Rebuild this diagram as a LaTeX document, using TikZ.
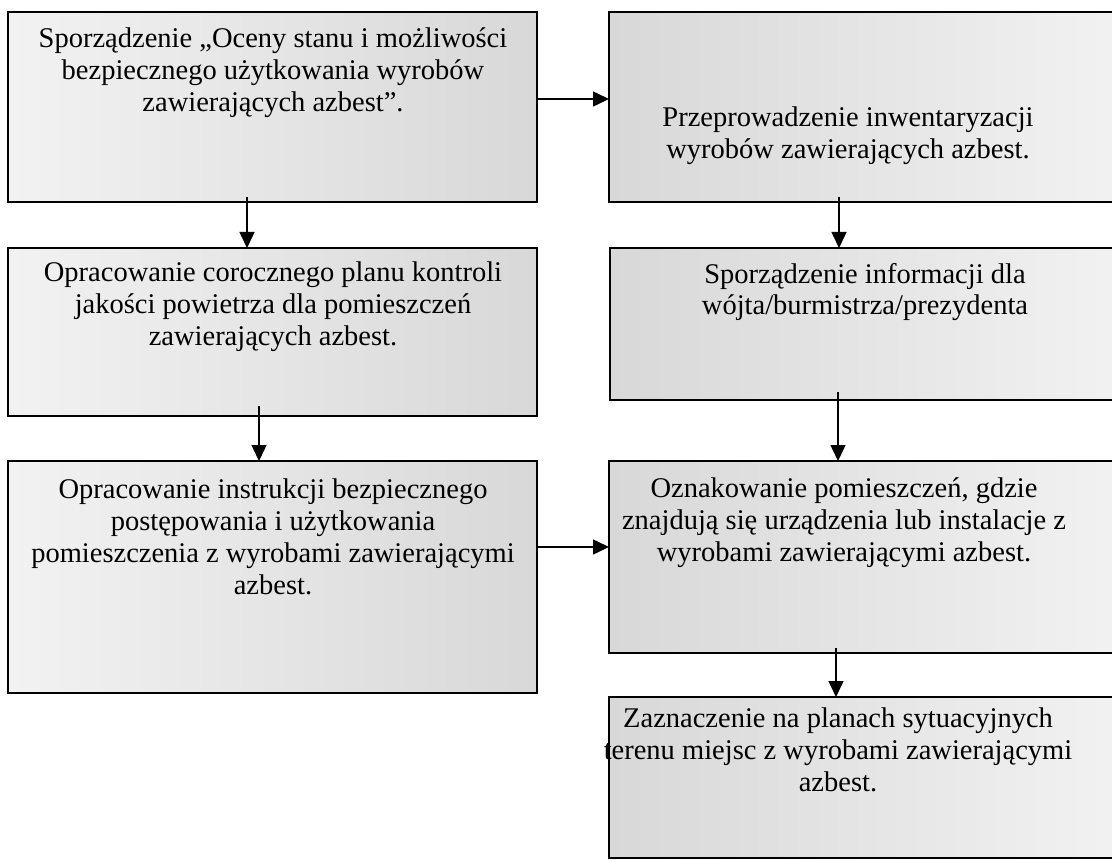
\documentclass[tikz,border=0pt]{standalone}
\usepackage{fontspec}
\setmainfont{Liberation Serif}
\usetikzlibrary{arrows.meta}
\definecolor{shdark}{HTML}{D8D8D8}
\definecolor{shlight}{HTML}{F2F2F2}
\tikzset{
  boxbase/.style={draw=black, line width=2pt, rectangle, inner sep=0pt, outer sep=0pt, anchor=north west},
  lbox/.style={boxbase, left color=shlight, right color=shdark},
  rbox/.style={boxbase, left color=shdark, right color=shlight},
  txt/.style={align=center, anchor=base, inner sep=0pt, font=\fontsize{28.5}{32}\selectfont},
  arr/.style={line width=1.5pt, -{Triangle[length=16pt,width=15pt]}}
}
\begin{document}
\begin{tikzpicture}[x=1pt,y=-1pt]
\clip (0,0) rectangle (1112,861);
\fill[white] (0,0) rectangle (1112,861);
% boxes
\node[lbox, minimum width=529pt, minimum height=190pt] (b1) at (8,12) {};
\node[rbox, minimum width=516pt, minimum height=190pt] (b2) at (609,12) {};
\node[rbox, minimum width=515pt, minimum height=152pt] (b3) at (610,248) {};
\node[lbox, minimum width=529pt, minimum height=168pt] (b4) at (8,248) {};
\node[lbox, minimum width=529pt, minimum height=232pt] (b5) at (8,461) {};
\node[rbox, minimum width=516pt, minimum height=192pt] (b6) at (609,461) {};
\node[rbox, minimum width=516pt, minimum height=161pt] (b7) at (609,697) {};
% texts (anchor base = baseline of last line)
\node[txt] (t1) at (273,112) {Sporządzenie „Oceny stanu i możliwości\\bezpiecznego użytkowania wyrobów\\zawierających azbest”.};
\node[txt] (t2) at (848,159) {Przeprowadzenie inwentaryzacji\\wyrobów zawierających azbest.};
\node[txt] (t3) at (865,315) {Sporządzenie informacji dla\\wójta/burmistrza/prezydenta};
\node[txt] (t4) at (273,345) {Opracowanie corocznego planu kontroli\\jakości powietrza dla pomieszczeń\\zawierających azbest.};
\node[txt] (t5) at (273,594) {Opracowanie instrukcji bezpiecznego\\postępowania i użytkowania\\pomieszczenia z wyrobami zawierającymi\\azbest.};
\node[txt] (t6) at (844,561) {Oznakowanie pomieszczeń, gdzie\\znajdują się urządzenia lub instalacje z\\wyrobami zawierającymi azbest.};
\node[txt] (t7) at (838,791) {Zaznaczenie na planach sytuacyjnych\\terenu miejsc z wyrobami zawierającymi\\azbest.};
% arrows
\draw[arr] ([xshift=-25.5pt,yshift=5pt]b1.south) -- ([xshift=-25.5pt]b1.south |- b4.north);
\draw[arr] ([xshift=-28pt,yshift=5pt]b2.south) -- ([xshift=-28pt]b2.south |- b3.north);
\draw[arr] ([xshift=-29.5pt,yshift=8pt]b3.south) -- ([xshift=-29.5pt]b3.south |- b6.north);
\draw[arr] ([xshift=-13.5pt,yshift=10pt]b4.south) -- ([xshift=-13.5pt]b4.south |- b5.north);
\draw[arr] ([xshift=-31pt,yshift=5pt]b6.south) -- ([xshift=-31pt]b6.south |- b7.north);
\draw[arr] ([yshift=8pt]b1.east) -- ([yshift=8pt]b1.east -| b2.west);
\draw[arr] ([yshift=30pt]b5.east) -- ([yshift=30pt]b5.east -| b6.west);
\end{tikzpicture}
\end{document}
